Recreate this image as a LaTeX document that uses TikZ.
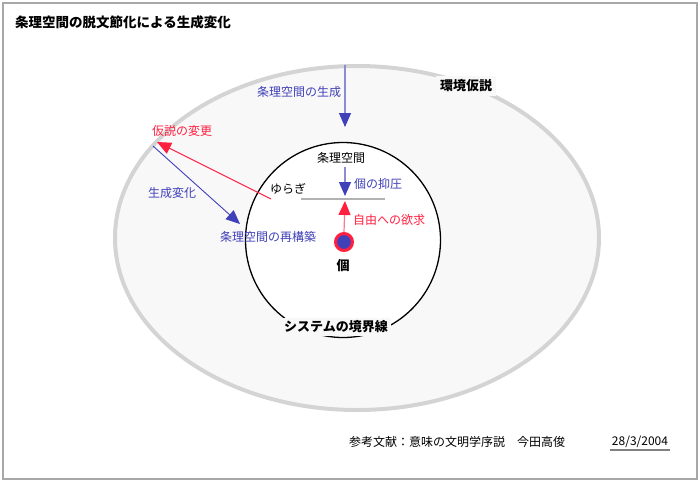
\documentclass[tikz,border=0pt]{standalone}
\usepackage{fontspec}
\setmainfont{Noto Sans CJK JP}
\usetikzlibrary{arrows.meta, positioning}
\definecolor{MapBlue}{HTML}{4040B8}
\definecolor{MapRed}{HTML}{FF2040}
\definecolor{MapGray}{HTML}{D4D4D4}
\definecolor{MapFill}{HTML}{F8F8F8}
\definecolor{FrameGray}{HTML}{A8A8A8}
\tikzset{
    % text styles
    plain text/.style={
        inner sep=1pt,
        font=\fontsize{12}{14}\selectfont
    },
    text blue/.style={
        plain text,
        text=MapBlue
    },
    text red/.style={
        plain text,
        text=MapRed
    },
    text bold/.style={
        inner sep=1pt,
        font=\fontsize{13}{15}\selectfont\bfseries
    },
    tag box/.style={
        text bold,
        fill=MapFill,
        inner sep=4pt
    },
    % self dot
    self dot/.style={
        circle,
        draw=MapRed,
        fill=MapBlue,
        line width=3pt,
        minimum size=17pt,
        inner sep=0pt
    },
    % connector styles
    arrow blue/.style={
        -{Triangle[width=12pt, length=14pt, color=MapBlue, fill=MapBlue]},
        draw=MapBlue!60,
        line width=1.2pt
    },
    arrow red/.style={
        -{Triangle[width=12pt, length=14pt, color=MapRed, fill=MapRed]},
        draw=MapRed!60,
        line width=1.2pt
    },
    slant blue/.style={
        arrow blue,
        draw=MapBlue,
        line width=0.9pt
    },
    slant red/.style={
        arrow red,
        draw=MapRed,
        line width=0.9pt
    }
}
\begin{document}
\begin{tikzpicture}[x=1pt, y=-1pt]
    \useasboundingbox (0,0) rectangle (700,482);
    \draw[FrameGray, line width=2pt] (3,3) rectangle (697,479);

    % environment and system boundary
    \draw[MapGray, fill=MapFill, line width=4pt] (357,238) ellipse [x radius=242pt, y radius=172pt];
    \draw[black, fill=white, line width=1.3pt] (343,240) circle [radius=97.5pt];

    \node[text bold, font=\fontsize{13.5}{15}\selectfont\bfseries, anchor=west] (title) at (14,22) {条理空間の脱文節化による生成変化};
    \node[tag box] (env) at (466,86) {環境仮説};
    \node[tag box, inner sep=3pt] (border) at (336,327) {システムの境界線};

    \node[text blue] (genesis) at (299,92) {条理空間の生成};
    \node[plain text] (striated) at (341,158) {条理空間};
    \node[text blue] (suppress) at (378,184) {個の抑圧};
    \node[plain text] (sway) at (288,189) {ゆらぎ};
    \node[text red] (desire) at (389,220) {自由への欲求};
    \node[text blue] (rebuild) at (268,237) {条理空間の再構築};
    \node[text red] (change) at (182,131) {仮説の変更};
    \node[text blue] (becoming) at (172,193) {生成変化};

    \node[self dot] (self) at (344,242) {};
    \node[text bold] (selflabel) at (343,266) {個};

    \node[plain text] (source) at (457,442) {参考文献：意味の文明学序説　今田高俊};
    \node[plain text, inner sep=2pt] (date) at (640,442) {28/3/2004};
    \draw[gray, line width=2pt] (date.south west) -- (date.south east);

    % connectors
    \coordinate (gen top) at (345,65);
    \coordinate (gen end) at (345,127);
    \coordinate (press start) at (345,167);
    \coordinate (press end) at (345,196);
    \coordinate (free end) at (345,201);
    \coordinate (sway left) at (301,199);
    \coordinate (sway right) at (385,199);
    \coordinate (sway start) at (271,199);
    \coordinate (edge point) at (157,142);
    \coordinate (edge start) at (153,146);
    \coordinate (rebuild end) at (240,224);

    \draw[arrow blue] (gen top) -- (gen end);
    \draw[arrow blue] (press start) -- (press end);
    \draw[arrow red] (self.north) -- (free end);
    \draw[black!30, line width=2pt] (sway left) -- (sway right);
    \draw[slant red] (sway start) -- (edge point);
    \draw[slant blue] (edge start) -- (rebuild end);
\end{tikzpicture}
\end{document}
